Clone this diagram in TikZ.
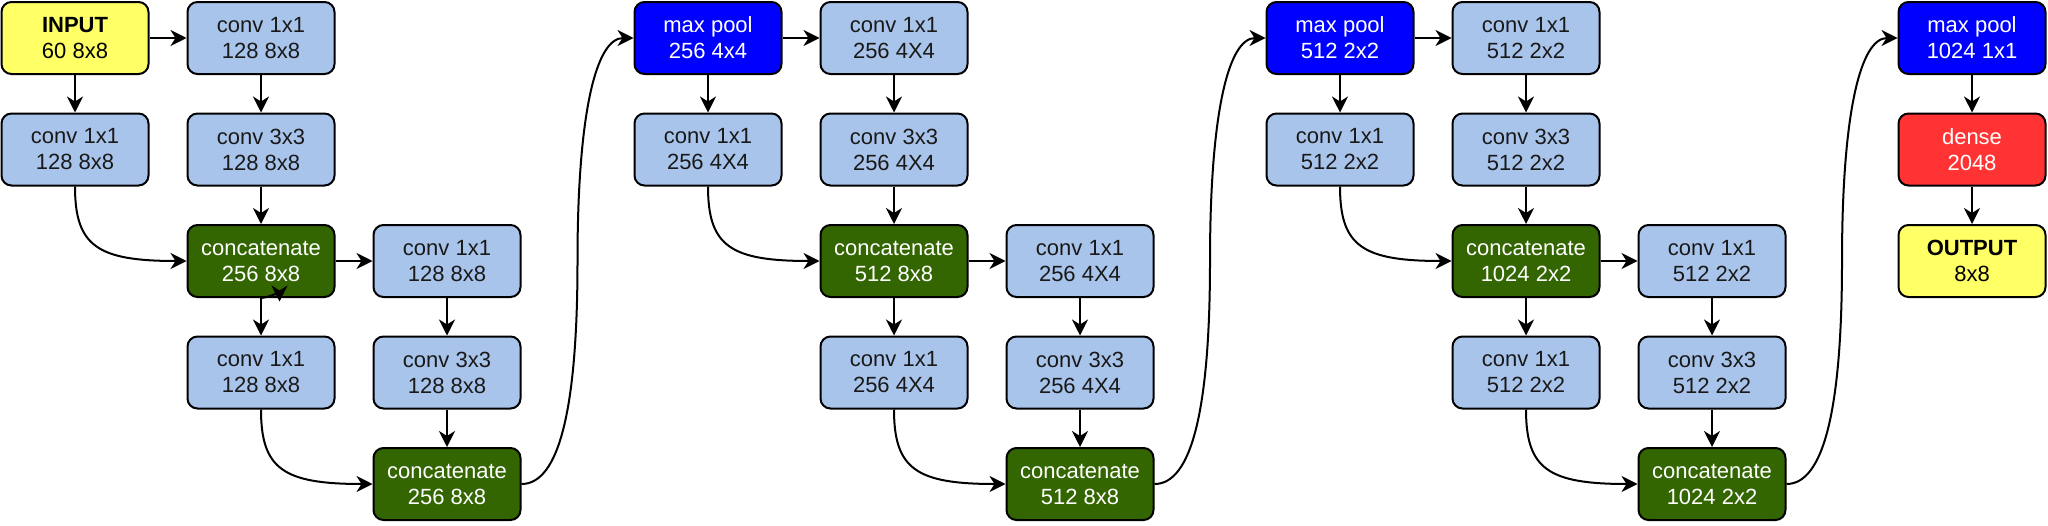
\documentclass[tikz,border=0pt]{standalone}
\usepackage{fontspec}
\setmainfont{Liberation Sans}
\usetikzlibrary{arrows.meta,calc}
\definecolor{convblue}{HTML}{A9C4EB}
\definecolor{catgreen}{HTML}{336600}
\definecolor{poolblue}{HTML}{0000FF}
\definecolor{densered}{HTML}{FF3333}
\definecolor{ioyellow}{HTML}{FFFF66}
\begin{document}
\begin{tikzpicture}[x=1pt,y=-1pt,
  box/.style={draw=black, line width=2pt, rounded corners=10pt,
    minimum width=147pt, minimum height=72pt, inner sep=0pt, align=center,
    font=\fontsize{22}{26}\selectfont},
  conv/.style={box, fill=convblue, text=black!90},
  cat/.style={box, fill=catgreen, text=white},
  pool/.style={box, fill=poolblue, text=white},
  dense/.style={box, fill=densered, text=white},
  io/.style={box, fill=ioyellow, text=black},
  arr/.style={draw=black, line width=2pt, -{Stealth[length=16pt,width=16pt,inset=5pt]}}
]
\useasboundingbox (0,0) rectangle (2048,525);
% group 1
\node[io]   (in)   at (75,38)    {\textbf{INPUT}\\60 8x8};
\node[conv] (a1)   at (261,38)   {conv 1x1\\128 8x8};
\node[conv] (a2)   at (75,149.5) {conv 1x1\\128 8x8};
\node[conv] (a3)   at (261,149.5){conv 3x3\\128 8x8};
\node[cat]  (cat1) at (261,261)  {concatenate\\256 8x8};
\node[conv] (a4)   at (447,261)  {conv 1x1\\128 8x8};
\node[conv] (a5)   at (261,372.5){conv 1x1\\128 8x8};
\node[conv] (a6)   at (447,372.5){conv 3x3\\128 8x8};
\node[cat]  (cat2) at (447,484)  {concatenate\\256 8x8};
% group 2
\node[pool] (mp1)  at (708,38)   {max pool\\256 4x4};
\node[conv] (b1)   at (894,38)   {conv 1x1\\256 4X4};
\node[conv] (b2)   at (708,149.5){conv 1x1\\256 4X4};
\node[conv] (b3)   at (894,149.5){conv 3x3\\256 4X4};
\node[cat]  (cat3) at (894,261)  {concatenate\\512 8x8};
\node[conv] (b4)   at (1080,261) {conv 1x1\\256 4X4};
\node[conv] (b5)   at (894,372.5){conv 1x1\\256 4X4};
\node[conv] (b6)   at (1080,372.5){conv 3x3\\256 4X4};
\node[cat]  (cat4) at (1080,484) {concatenate\\512 8x8};
% group 3
\node[pool] (mp2)  at (1340,38)  {max pool\\512 2x2};
\node[conv] (d1)   at (1526,38)  {conv 1x1\\512 2x2};
\node[conv] (d2)   at (1340,149.5){conv 1x1\\512 2x2};
\node[conv] (d3)   at (1526,149.5){conv 3x3\\512 2x2};
\node[cat]  (cat5) at (1526,261) {concatenate\\1024 2x2};
\node[conv] (d4)   at (1712,261) {conv 1x1\\512 2x2};
\node[conv] (d5)   at (1526,372.5){conv 1x1\\512 2x2};
\node[conv] (d6)   at (1712,372.5){conv 3x3\\512 2x2};
\node[cat]  (cat6) at (1712,484) {concatenate\\1024 2x2};
% group 4
\node[pool]  (mp3)  at (1972,38)   {max pool\\1024 1x1};
\node[dense] (dns)  at (1972,149.5){dense\\2048};
\node[io]    (out)  at (1972,261)  {\textbf{OUTPUT}\\8x8};

% straight edges
\foreach \s/\t in {in/a1,cat1/a4,mp1/b1,cat3/b4,mp2/d1,cat5/d4}
  \draw[arr] (\s.east) -- (\t.west);
\foreach \s/\t in {in/a2,a1/a3,a3/cat1,cat1/a5,a4/a6,a6/cat2,
                   mp1/b2,b1/b3,b3/cat3,cat3/b5,b4/b6,b6/cat4,
                   mp2/d2,d1/d3,d3/cat5,cat5/d5,d4/d6,d6/cat6,
                   mp3/dns,dns/out}
  \draw[arr] (\s.south) -- (\t.north);

% curved merges into concatenations
\foreach \s/\t in {a2/cat1,a5/cat2,b2/cat3,b5/cat4,d2/cat5,d5/cat6}
  \draw[arr] (\s.south) .. controls ($(\s.south)!0.8!(\s.south|-\t.west)$)
     and ($(\t.west)!0.8!(\s.south|-\t.west)$) .. (\t.west);

% long S-curves between groups
\foreach \s/\t/\n in {cat2/mp1/1,cat4/mp2/2,cat6/mp3/3}{
  \coordinate (m\n) at ($(\s.east)!0.5!(\t.west)$);
  \coordinate (k\n) at (m\n|-\s.east);
  \coordinate (j\n) at (m\n|-\t.west);
  \draw[arr] (\s.east) .. controls ($(\s.east)!2/3!(k\n)$) and ($(m\n)!2/3!(k\n)$) .. (m\n)
     .. controls ($(m\n)!2/3!(j\n)$) and ($(\t.west)!2/3!(j\n)$) .. (\t.west);
}

% small stray arrowhead at the bottom of the first concatenate
\coordinate (stray) at ($(cat1.south)+(18.5,3.5)$);
\draw[arr] (cat1.south) .. controls +(12,-1.5) and +(0,-10) .. (stray);
\end{tikzpicture}
\end{document}
